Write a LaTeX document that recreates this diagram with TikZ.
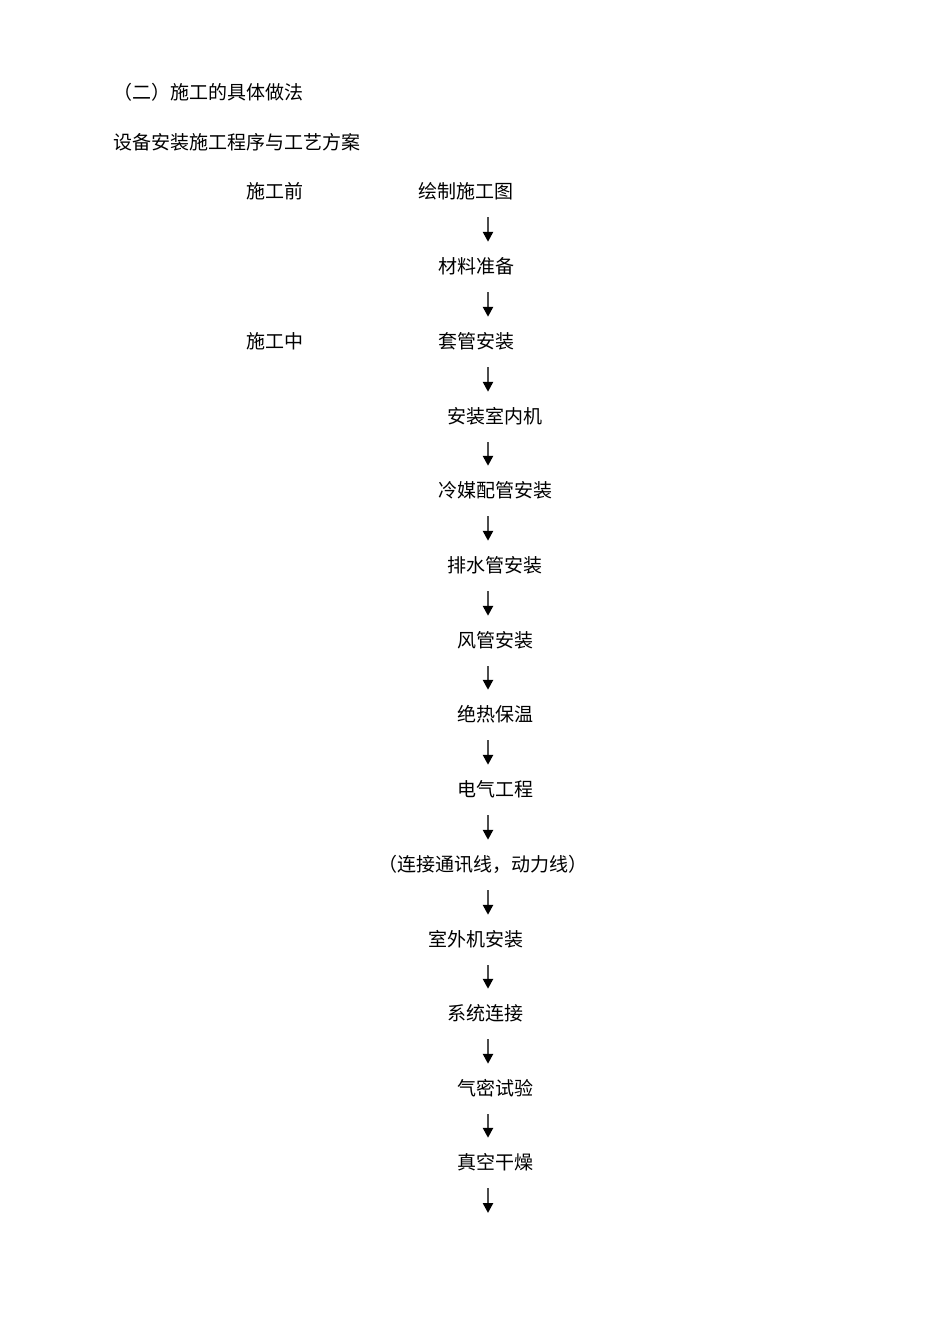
\documentclass[tikz,border=0pt]{standalone}
\usepackage{fontspec}
\setmainfont{Noto Sans CJK SC}
\usetikzlibrary{arrows.meta}
\tikzset{
  txt/.style={inner sep=0pt, anchor=west, text height=16pt, text depth=2pt,
    font=\fontsize{19}{19}\selectfont},
  flow/.style={-{Triangle[length=10pt,width=10pt,color=black]}, line width=2.4pt,
    draw=black!70, shorten <=17pt, shorten >=15pt},
}

\begin{document}
\begin{tikzpicture}[x=1pt,y=-1pt]
    \useasboundingbox (0,0) rectangle (950,1344);
    % headings
    \node[txt] (title) at (113,92) {（二）施工的具体做法};
    \node[txt] (subtitle) at (113,142) {设备安装施工程序与工艺方案};
    \node[txt] (before) at (246,191) {施工前};
    \node[txt] (during) at (246,341) {施工中};
    % steps
    \node[txt] (drawing) at (418,191) {绘制施工图};
    \node[txt] (material) at (438,266) {材料准备};
    \node[txt] (sleeve) at (438,341) {套管安装};
    \node[txt] (indoor) at (447,416) {安装室内机};
    \node[txt] (refpipe) at (438,490) {冷媒配管安装};
    \node[txt] (drain) at (447,565) {排水管安装};
    \node[txt] (duct) at (457,640) {风管安装};
    \node[txt] (insul) at (457,714) {绝热保温};
    \node[txt] (elec) at (457,789) {电气工程};
    \node[txt] (wires) at (378,864) {（连接通讯线，动力线）};
    \node[txt] (outdoor) at (428,939) {室外机安装};
    \node[txt] (system) at (447,1013) {系统连接};
    \node[txt] (airtight) at (457,1088) {气密试验};
    \node[txt] (vacuum) at (457,1162) {真空干燥};
    % arrows
    \coordinate (axis) at (488,0);
    \coordinate (last) at (488,1213);
    \draw[flow] (drawing.south -| axis) -- (material.north -| axis);
    \draw[flow] (material.south -| axis) -- (sleeve.north -| axis);
    \draw[flow] (sleeve.south -| axis) -- (indoor.north -| axis);
    \draw[flow] (indoor.south -| axis) -- (refpipe.north -| axis);
    \draw[flow] (refpipe.south -| axis) -- (drain.north -| axis);
    \draw[flow] (drain.south -| axis) -- (duct.north -| axis);
    \draw[flow] (duct.south -| axis) -- (insul.north -| axis);
    \draw[flow] (insul.south -| axis) -- (elec.north -| axis);
    \draw[flow] (elec.south -| axis) -- (wires.north -| axis);
    \draw[flow] (wires.south -| axis) -- (outdoor.north -| axis);
    \draw[flow] (outdoor.south -| axis) -- (system.north -| axis);
    \draw[flow] (system.south -| axis) -- (airtight.north -| axis);
    \draw[flow] (airtight.south -| axis) -- (vacuum.north -| axis);
    \draw[flow, shorten >=0pt] (vacuum.south -| axis) -- (last);
\end{tikzpicture}
\end{document}
